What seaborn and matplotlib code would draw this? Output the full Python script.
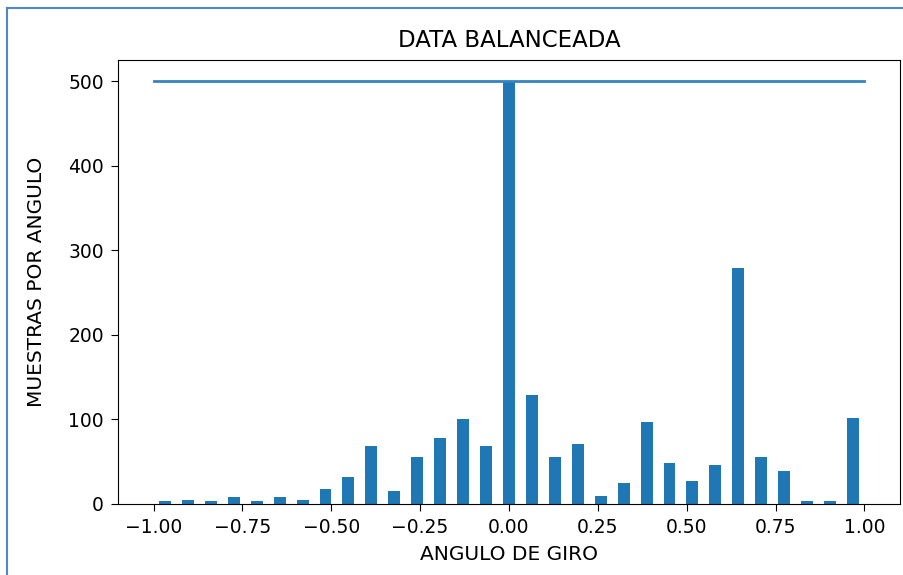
import numpy as np
import pandas as pd
import matplotlib
matplotlib.use("Agg")
import matplotlib.pyplot as plt
import seaborn as sns
from matplotlib.lines import Line2D

# -----------------------------------
# DATA
# -----------------------------------

n_bins = 31
samples_per_bin = 500

counts = [3, 5, 3, 8, 3, 8, 5, 18, 32, 68, 15, 56, 78, 100, 68,
          500,
          129, 56, 71, 10, 25, 97, 49, 27, 46, 279, 56, 39, 3, 3, 102]

bins = np.linspace(-1, 1, n_bins + 1)
center = (bins[:-1] + bins[1:]) * 0.5

df = pd.DataFrame({"angle": center, "count": counts})

# -----------------------------------
# PLOT
# -----------------------------------

fig = plt.figure(figsize=(9.04, 5.75), dpi=100)
ax = fig.add_axes([0.1305, 0.1235, 0.8650, 0.7722])

sns.histplot(data=df, x="angle", weights="count", bins=list(bins), shrink=0.52,
             color="#1f77b4", alpha=1, linewidth=0, ax=ax)
sns.lineplot(x=[-1, 1], y=[samples_per_bin, samples_per_bin],
             color="#3384c0", linewidth=2, ax=ax)

ax.set_xlim(-1.1, 1.1)
ax.set_ylim(0, 525)
ax.set_xticks(np.arange(-1, 1.01, 0.25))
ax.set_yticks(range(0, 501, 100))
ax.tick_params(labelsize=13.5, length=5, pad=5)

ax.set_title("DATA BALANCEADA", fontsize=16.5, pad=9)
ax.set_xlabel("ANGULO DE GIRO", fontsize=14.5, labelpad=6)
ax.set_ylabel("MUESTRAS POR ANGULO", fontsize=14.5, labelpad=16)

# screenshot frame
fig.add_artist(Line2D([7 / 904, 7 / 904], [0, 1 - 8 / 575],
                      transform=fig.transFigure, color="#4f86cc", linewidth=1.5))
fig.add_artist(Line2D([7 / 904, 1], [1 - 8 / 575, 1 - 8 / 575],
                      transform=fig.transFigure, color="#4f86cc", linewidth=1.5))

fig.savefig("out.png", dpi=100)
